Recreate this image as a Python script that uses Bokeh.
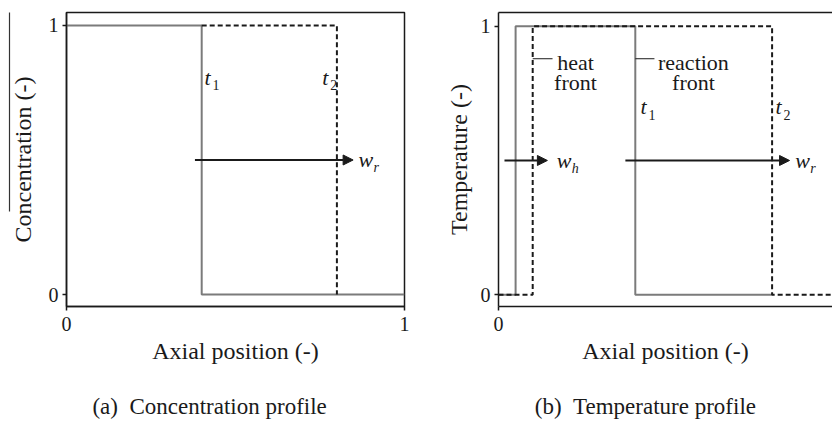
from bokeh.plotting import figure
from bokeh.layouts import row
from bokeh.models import (FixedTicker, Arrow, NormalHead, LinearAxis, Title,
                          Range1d, ColumnDataSource)
from bokeh.core.properties import value
from bokeh.embed import file_html
from bokeh.resources import INLINE

SERIF = "Liberation Serif"
GRAY = "#7b7b7b"
INK = "#1a1a1a"
NBSP = "\u00a0"

# ---- (a) concentration profile: step fronts at t1 and t2 ----
conc_t1_x = [0.0, 0.4, 0.4, 1.0]
conc_t1_y = [1.0, 1.0, 0.0, 0.0]
conc_t2_x = [0.4, 0.8, 0.8]
conc_t2_y = [1.0, 1.0, 0.0]

# ---- (b) temperature profile: heat front and reaction front ----
temp_t1_x = [0.0, 0.05, 0.05, 0.4, 0.4, 0.8]
temp_t1_y = [0.0, 0.0, 1.0, 1.0, 0.0, 0.0]
temp_t2_x = [0.0, 0.1, 0.1, 0.8, 0.8, 1.0]
temp_t2_y = [0.0, 0.0, 1.0, 1.0, 0.0, 0.0]

# front velocity arrows
conc_arrow_x0 = [0.38]
conc_arrow_x1 = [0.848]
conc_arrow_y = [0.5]
temp_arrow_x0 = [0.0175, 0.371]
temp_arrow_x1 = [0.143, 0.851]
temp_arrow_y = [0.5, 0.5]

# italic symbols with subscripts
conc_sym = ["t", "t", "w"]
conc_sub = ["1", "2", "r"]
conc_sub_style = ["normal", "normal", "italic"]
conc_sym_x = [0.408, 0.757, 0.864]
conc_sym_y = [0.807, 0.807, 0.5]
conc_sub_dx = [8, 8, 15]

temp_sym = ["t", "t", "w", "w"]
temp_sub = ["1", "2", "h", "r"]
temp_sub_style = ["normal", "normal", "italic", "italic"]
temp_sym_x = [0.415, 0.81, 0.17, 0.868]
temp_sym_y = [0.70, 0.70, 0.5, 0.5]
temp_sub_dx = [8, 8, 15, 15]

# front annotations
front_names = ["heat", "reaction"]
front_line_x0 = [0.1, 0.4]
front_line_x1 = [0.158, 0.456]
front_text_x = [0.225, 0.570]

tick_values = [0, 1]
tick_labels = {0: "0", 1: "1"}


def bare_axis(**kw):
    """An axis without ticks or tick labels (used for frame edges and captions)."""
    return LinearAxis(ticker=FixedTicker(ticks=[]), major_tick_out=0, major_tick_in=0,
                      major_label_standoff=0, major_label_text_font_size="0px",
                      minor_tick_line_color=None, **kw)


def make_panel(width, x_end, y_start, y_end, border_left, border_right, border_top):
    p = figure(width=width, height=422, x_range=Range1d(0, x_end),
               y_range=Range1d(y_start, y_end), output_backend="svg",
               toolbar_location=None, min_border_left=border_left,
               min_border_right=border_right, min_border_top=border_top,
               min_border_bottom=116, background_fill_color="white",
               border_fill_color="white")
    p.grid.visible = False
    for ax in (p.xaxis[0], p.yaxis[0]):
        ax.ticker = FixedTicker(ticks=tick_values)
        ax.major_label_overrides = tick_labels
        ax.minor_tick_line_color = None
        ax.major_tick_in = 0
        ax.major_tick_out = 4
        ax.major_tick_line_color = INK
        ax.major_tick_line_width = 1.5
        ax.axis_line_color = INK
        ax.axis_line_width = 1.5
        ax.major_label_text_font = SERIF
        ax.major_label_text_font_size = "20px"
        ax.major_label_text_color = INK
        ax.axis_label_text_font = SERIF
        ax.axis_label_text_font_size = "24px"
        ax.axis_label_text_font_style = "normal"
        ax.axis_label_text_color = INK
    p.xaxis.axis_label = "Axial position (-)"
    p.xaxis.major_label_standoff = 6
    p.xaxis.axis_label_standoff = 4
    p.yaxis.major_label_standoff = 4
    return p


def add_caption(p, text, pad):
    # caption line under the axis title; trailing spaces shift it left of centre
    cap = bare_axis(axis_line_color=None, axis_label=text + NBSP * pad,
                    axis_label_standoff=27, axis_label_text_font=SERIF,
                    axis_label_text_font_size="23px", axis_label_text_font_style="normal",
                    axis_label_text_color=INK)
    p.add_layout(cap, "below")


def add_symbols(p, sym, sub, style, xs, ys, dxs):
    src = ColumnDataSource(dict(sym=sym, sub=sub, style=style, x=xs, y=ys, dx=dxs))
    p.text(x="x", y="y", text="sym", source=src, text_font=value(SERIF),
           text_font_style="italic", text_font_size="22px", text_color=INK,
           text_baseline="middle", text_align="left")
    p.text(x="x", y="y", text="sub", source=src, text_font=value(SERIF),
           text_font_style="style", text_font_size="14px", text_color=INK,
           text_baseline="middle", text_align="left", x_offset="dx", y_offset=8)


def add_arrows(p, x0, x1, y):
    src = ColumnDataSource(dict(x0=x0, x1=x1, y=y))
    p.add_layout(Arrow(end=NormalHead(size=10, fill_color=INK, line_color=INK),
                       x_start="x0", y_start="y", x_end="x1", y_end="y",
                       line_color=INK, line_width=2, source=src))


# ---------- panel (a) ----------
pa = make_panel(416, 1.0, -0.0446, 1.0483, 66, 12, 12)
pa.outline_line_color = INK
pa.outline_line_width = 1.5
# small gap between the tick labels and the vertical title
pa.yaxis.axis_label = NBSP
pa.yaxis.axis_label_text_font_size = "4px"
pa.yaxis.axis_label_standoff = 0
pa.add_layout(Title(text="Concentration (-)", align="center", vertical_align="top",
                    standoff=0, text_font=SERIF, text_font_size="24px",
                    text_font_style="normal", text_color=INK), "left")
# mean-value bar over the concentration symbol
pa.add_layout(bare_axis(bounds=(0.309, 1.0483), axis_line_color="#333333",
                        axis_line_width=1.2), "left")
pa.line(conc_t1_x, conc_t1_y, line_color=GRAY, line_width=2)
pa.line(conc_t2_x, conc_t2_y, line_color=INK, line_width=2, line_dash="5 3")
add_arrows(pa, conc_arrow_x0, conc_arrow_x1, conc_arrow_y)
add_symbols(pa, conc_sym, conc_sub, conc_sub_style, conc_sym_x, conc_sym_y, conc_sub_dx)
add_caption(pa, "(a)" + NBSP * 2 + "Concentration profile", 9)

# ---------- panel (b) ----------
pb = make_panel(416, 334 / 342, -0.044, 1.0513, 82, 0, 7)
pb.yaxis.axis_label = "Temperature (-)"
pb.yaxis.axis_label_standoff = 6
pb.outline_line_color = None
pb.add_layout(bare_axis(axis_line_color=INK, axis_line_width=1.5), "above")
pb.line(temp_t1_x, temp_t1_y, line_color=GRAY, line_width=2)
pb.line(temp_t2_x, temp_t2_y, line_color=INK, line_width=2, line_dash="5 3")
add_arrows(pb, temp_arrow_x0, temp_arrow_x1, temp_arrow_y)
add_symbols(pb, temp_sym, temp_sub, temp_sub_style, temp_sym_x, temp_sym_y, temp_sub_dx)

lead = ColumnDataSource(dict(x0=front_line_x0, x1=front_line_x1,
                             y=[0.879, 0.879], tx=front_text_x,
                             name=front_names, front=["front", "front"]))
pb.segment(x0="x0", y0="y", x1="x1", y1="y", source=lead, line_color=INK, line_width=1)
pb.text(x="tx", y=0.864, text="name", source=lead, text_font=value(SERIF),
        text_font_size="22px", text_color=INK, text_align="center",
        text_baseline="alphabetic")
pb.text(x="tx", y=0.791, text="front", source=lead, text_font=value(SERIF),
        text_font_size="22px", text_color=INK, text_align="center",
        text_baseline="alphabetic")
add_caption(pb, "(b)" + NBSP * 2 + "Temperature profile", 7)

layout = row(pa, pb)
open("out.html", "w").write(file_html(layout, INLINE))
